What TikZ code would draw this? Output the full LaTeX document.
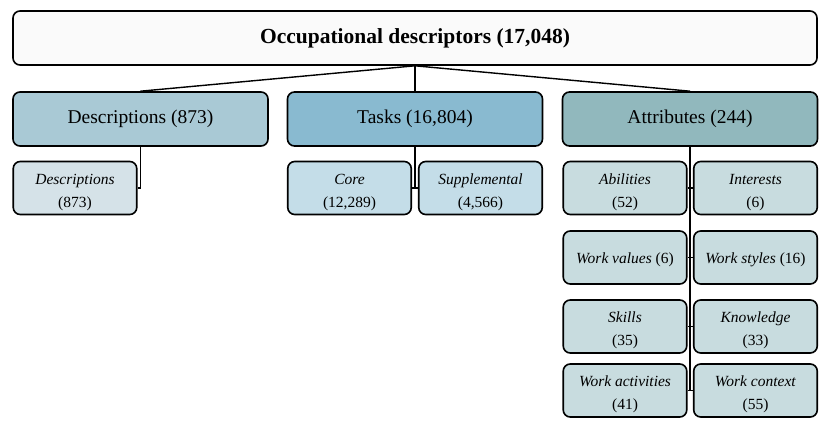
\documentclass[tikz,border=0pt]{standalone}
\usepackage{fontspec}
\setmainfont{Liberation Serif}
\definecolor{topfill}{HTML}{FAFAFA}
\definecolor{descfill}{HTML}{A9C9D5}
\definecolor{taskfill}{HTML}{89BAD0}
\definecolor{attrfill}{HTML}{91B8BD}
\definecolor{descsubfill}{HTML}{D5E2E8}
\definecolor{tasksubfill}{HTML}{C4DDE8}
\definecolor{attrsubfill}{HTML}{C8DCDF}
\newcommand{\mysublabel}[2]{\raisebox{-3pt}[\height][\depth]{\begin{tabular}{@{}c@{}}\textit{#1}\\#2\end{tabular}}}
\newcommand{\myoneline}[1]{\raisebox{-2pt}[\height][\depth]{#1}}
\begin{document}
\begin{tikzpicture}[x=1pt,y=-1pt,
  boxbase/.style={draw, line width=1.6pt, rounded corners=7pt, inner sep=0pt, align=center, text=black},
  topbox/.style={boxbase, fill=topfill, minimum width=804pt, minimum height=54pt, font=\fontsize{21.5}{24}\selectfont\bfseries},
  midbox/.style={boxbase, minimum width=255pt, minimum height=54pt, font=\fontsize{19.5}{22}\selectfont},
  subbox/.style={boxbase, minimum width=123.5pt, minimum height=53pt, font=\fontsize{15.5}{23}\selectfont},
  conn/.style={line width=1.4pt}]
\useasboundingbox (0,0) rectangle (830,430);
\node[topbox] (top) at (415,38) {Occupational descriptors (17,048)};
\node[midbox, fill=descfill] (desc) at (140.5,119) {Descriptions (873)};
\node[midbox, fill=taskfill] (tasks) at (415,119) {Tasks (16,804)};
\node[midbox, fill=attrfill] (attr) at (690,119) {Attributes (244)};
\node[subbox, fill=descsubfill] (descsub) at (75,188) {\mysublabel{Descriptions}{(873)}};
\node[subbox, fill=tasksubfill] (core) at (349.5,188) {\mysublabel{Core}{(12,289)}};
\node[subbox, fill=tasksubfill] (supp) at (480.5,188) {\mysublabel{Supplemental}{(4,566)}};
\node[subbox, fill=attrsubfill] (abil) at (625,188) {\mysublabel{Abilities}{(52)}};
\node[subbox, fill=attrsubfill] (inter) at (755.5,188) {\mysublabel{Interests}{(6)}};
\node[subbox, fill=attrsubfill] (wv) at (625,257.5) {\myoneline{\textit{Work values} (6)}};
\node[subbox, fill=attrsubfill] (ws) at (755.5,257.5) {\myoneline{\textit{Work styles} (16)}};
\node[subbox, fill=attrsubfill] (skills) at (625,326.5) {\mysublabel{Skills}{(35)}};
\node[subbox, fill=attrsubfill] (know) at (755.5,326.5) {\mysublabel{Knowledge}{(33)}};
\node[subbox, fill=attrsubfill] (wa) at (625,390.5) {\mysublabel{Work activities}{(41)}};
\node[subbox, fill=attrsubfill] (wc) at (755.5,390.5) {\mysublabel{Work context}{(55)}};
\draw[conn] (top.south) -- (desc.north);
\draw[conn] (top.south) -- (tasks.north);
\draw[conn] (top.south) -- (attr.north);
\draw[conn] (desc.south) -- (desc.south |- descsub.east) -- (descsub.east);
\draw[conn] (tasks.south) -- (tasks.south |- core.east);
\draw[conn] (core.east) -- (supp.west);
\draw[conn] (attr.south) -- (attr.south |- wa.east);
\draw[conn] (abil.east) -- (inter.west);
\draw[conn] (wv.east) -- (ws.west);
\draw[conn] (skills.east) -- (know.west);
\draw[conn] (wa.east) -- (wc.west);
\end{tikzpicture}
\end{document}
